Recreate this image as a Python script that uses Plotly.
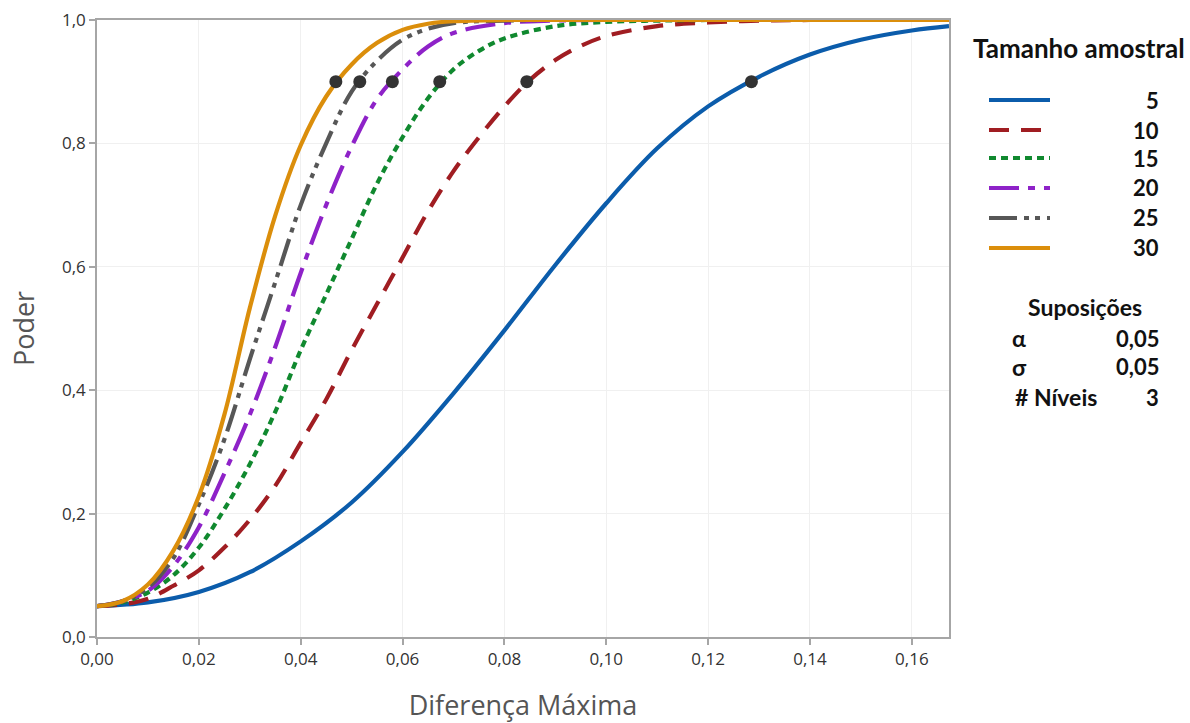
import plotly.graph_objects as go

# ---------------- data ----------------
sample_sizes = ["5", "10", "15", "20", "25", "30"]

diff_n5 = [0, 0.01, 0.02, 0.03, 0.04, 0.05, 0.06, 0.07, 0.08, 0.09, 0.10, 0.11, 0.12, 0.13, 0.14, 0.15, 0.16, 0.1673]
power_n5 = [0.05, 0.056, 0.073, 0.105, 0.155, 0.218, 0.30, 0.395, 0.497, 0.603, 0.703, 0.792, 0.86, 0.908, 0.944, 0.968, 0.983, 0.99]

diff_n10 = [0, 0.005, 0.01, 0.015, 0.02, 0.025, 0.03, 0.035, 0.04, 0.045, 0.05, 0.055, 0.06, 0.065, 0.07, 0.075, 0.08, 0.085, 0.09, 0.095, 0.10, 0.11, 0.12, 0.13, 0.14, 0.1673]
power_n10 = [0.05, 0.053, 0.062, 0.083, 0.108, 0.145, 0.19, 0.245, 0.315, 0.385, 0.465, 0.54, 0.615, 0.69, 0.755, 0.81, 0.86, 0.903, 0.935, 0.958, 0.974, 0.99, 0.996, 0.999, 1.0, 1.0]

diff_n15 = [0, 0.005, 0.01, 0.015, 0.02, 0.025, 0.03, 0.035, 0.04, 0.045, 0.05, 0.055, 0.06, 0.065, 0.07, 0.075, 0.08, 0.09, 0.10, 0.11, 0.12, 0.1673]
power_n15 = [0.05, 0.056, 0.072, 0.10, 0.145, 0.207, 0.28, 0.365, 0.465, 0.555, 0.645, 0.735, 0.81, 0.873, 0.92, 0.95, 0.97, 0.99, 0.997, 0.999, 1.0, 1.0]

diff_n20 = [0, 0.005, 0.01, 0.015, 0.02, 0.025, 0.03, 0.035, 0.04, 0.045, 0.05, 0.055, 0.06, 0.065, 0.07, 0.08, 0.09, 0.10, 0.1673]
power_n20 = [0.05, 0.058, 0.075, 0.115, 0.178, 0.265, 0.36, 0.47, 0.59, 0.70, 0.795, 0.872, 0.92, 0.957, 0.979, 0.995, 0.999, 1.0, 1.0]

diff_n25 = [0, 0.005, 0.01, 0.015, 0.02, 0.025, 0.03, 0.035, 0.04, 0.045, 0.05, 0.055, 0.06, 0.065, 0.07, 0.08, 0.1673]
power_n25 = [0.05, 0.058, 0.08, 0.128, 0.215, 0.32, 0.45, 0.575, 0.70, 0.80, 0.884, 0.934, 0.968, 0.986, 0.995, 0.999, 1.0]

diff_n30 = [0, 0.005, 0.01, 0.015, 0.02, 0.025, 0.03, 0.035, 0.04, 0.045, 0.05, 0.055, 0.06, 0.065, 0.07, 0.08, 0.1673]
power_n30 = [0.05, 0.058, 0.085, 0.14, 0.228, 0.36, 0.533, 0.683, 0.797, 0.876, 0.928, 0.963, 0.984, 0.994, 0.998, 1.0, 1.0]

# differences that reach power 0.9 (black dots)
target_diff = [0.1285, 0.0844, 0.0673, 0.058, 0.0516, 0.0469]
target_power = [0.9, 0.9, 0.9, 0.9, 0.9, 0.9]

x_ticks = [0, 0.02, 0.04, 0.06, 0.08, 0.10, 0.12, 0.14, 0.16]
y_ticks = [0, 0.2, 0.4, 0.6, 0.8, 1.0]

assumption_labels = ["α", "σ", "# Níveis"]
assumption_values = ["0,05", "0,05", "3"]

# ---------------- styles ----------------
series = [
    (diff_n5, power_n5, "#0B5CAB", "solid"),
    (diff_n10, power_n10, "#A01D22", "20px,12px"),
    (diff_n15, power_n15, "#10892F", "7px,5px"),
    (diff_n20, power_n20, "#8E22C8", "30px,9px,7px,9px"),
    (diff_n25, power_n25, "#575757", "28px,7px,5px,6px,5px,7px"),
    (diff_n30, power_n30, "#DB8E0B", "solid"),
]
LW = 4.2

fig = go.Figure()
for (xs, ys, col, dash), name in zip(series, sample_sizes):
    fig.add_trace(go.Scatter(
        x=xs, y=ys, mode="lines", name=name,
        line=dict(color=col, width=LW, dash=dash, shape="spline", smoothing=1.0),
        showlegend=False, hoverinfo="skip"))

fig.add_trace(go.Scatter(
    x=target_diff, y=target_power, mode="markers",
    marker=dict(color="#333333", size=13), showlegend=False, hoverinfo="skip"))

axis_common = dict(
    showline=True, linecolor="#A6A6A6", linewidth=1.5, mirror=True,
    ticks="outside", tickcolor="#A6A6A6", ticklen=6, tickwidth=1.5,
    showgrid=True, gridcolor="#F0F0F0", gridwidth=1, zeroline=False,
    tickfont=dict(family="Open Sans", size=17, color="#333333"),
)

fig.update_xaxes(range=[0, 0.1673], tickvals=x_ticks, tickformat=".2f",
                 title=dict(text="Diferença Máxima", standoff=30,
                            font=dict(family="Open Sans", size=27, color="#555555")),
                 **axis_common)
fig.update_yaxes(range=[0, 1.0], tickvals=y_ticks, tickformat=".1f",
                 title=dict(text="Poder", standoff=20,
                            font=dict(family="Open Sans", size=27, color="#555555")),
                 **axis_common)

# ---------------- custom legend (paper coords) ----------------
W, H = 1190, 723
ml, mr, mt, mb = 97, 241, 20, 86
pw, ph = W - ml - mr, H - mt - mb


def px_x(x):
    return (x - ml) / pw


def px_y(y):
    return (H - mb - y) / ph


def leg_font(size):
    return dict(family="Lato", size=size, color="#111111")


fig.add_annotation(xref="paper", yref="paper", x=px_x(1079), y=px_y(48),
                   text="<b>Tamanho amostral</b>", showarrow=False,
                   xanchor="center", yanchor="middle", font=leg_font(26))

row_y = [100, 130, 158, 188, 218, 248]
for (xs, ys, col, dash), name, ry in zip(series, sample_sizes, row_y):
    fig.add_shape(type="line", xref="paper", yref="paper",
                  x0=px_x(989), x1=px_x(1050), y0=px_y(ry), y1=px_y(ry),
                  line=dict(color=col, width=LW, dash=dash))
    fig.add_annotation(xref="paper", yref="paper", x=px_x(1161), y=px_y(ry),
                       text="<b>%s</b>" % name, showarrow=False,
                       xanchor="right", yanchor="middle", font=leg_font(22))

fig.add_annotation(xref="paper", yref="paper", x=px_x(1085), y=px_y(307),
                   text="<b>Suposições</b>", showarrow=False,
                   xanchor="center", yanchor="middle", font=leg_font(23))
ass_y = [338, 367, 397]
ass_x = [1010, 1010, 1013]
for lab, val, ay, ax in zip(assumption_labels, assumption_values, ass_y, ass_x):
    fig.add_annotation(xref="paper", yref="paper", x=px_x(ax), y=px_y(ay),
                       text="<b>%s</b>" % lab, showarrow=False,
                       xanchor="left", yanchor="middle", font=leg_font(23))
    fig.add_annotation(xref="paper", yref="paper", x=px_x(1161), y=px_y(ay),
                       text="<b>%s</b>" % val, showarrow=False,
                       xanchor="right", yanchor="middle", font=leg_font(22))

fig.update_layout(
    width=W, height=H,
    margin=dict(l=ml, r=mr, t=mt, b=mb, autoexpand=False),
    paper_bgcolor="white", plot_bgcolor="white",
    separators=",.",
    showlegend=False,
)

fig.write_html("out.html")
